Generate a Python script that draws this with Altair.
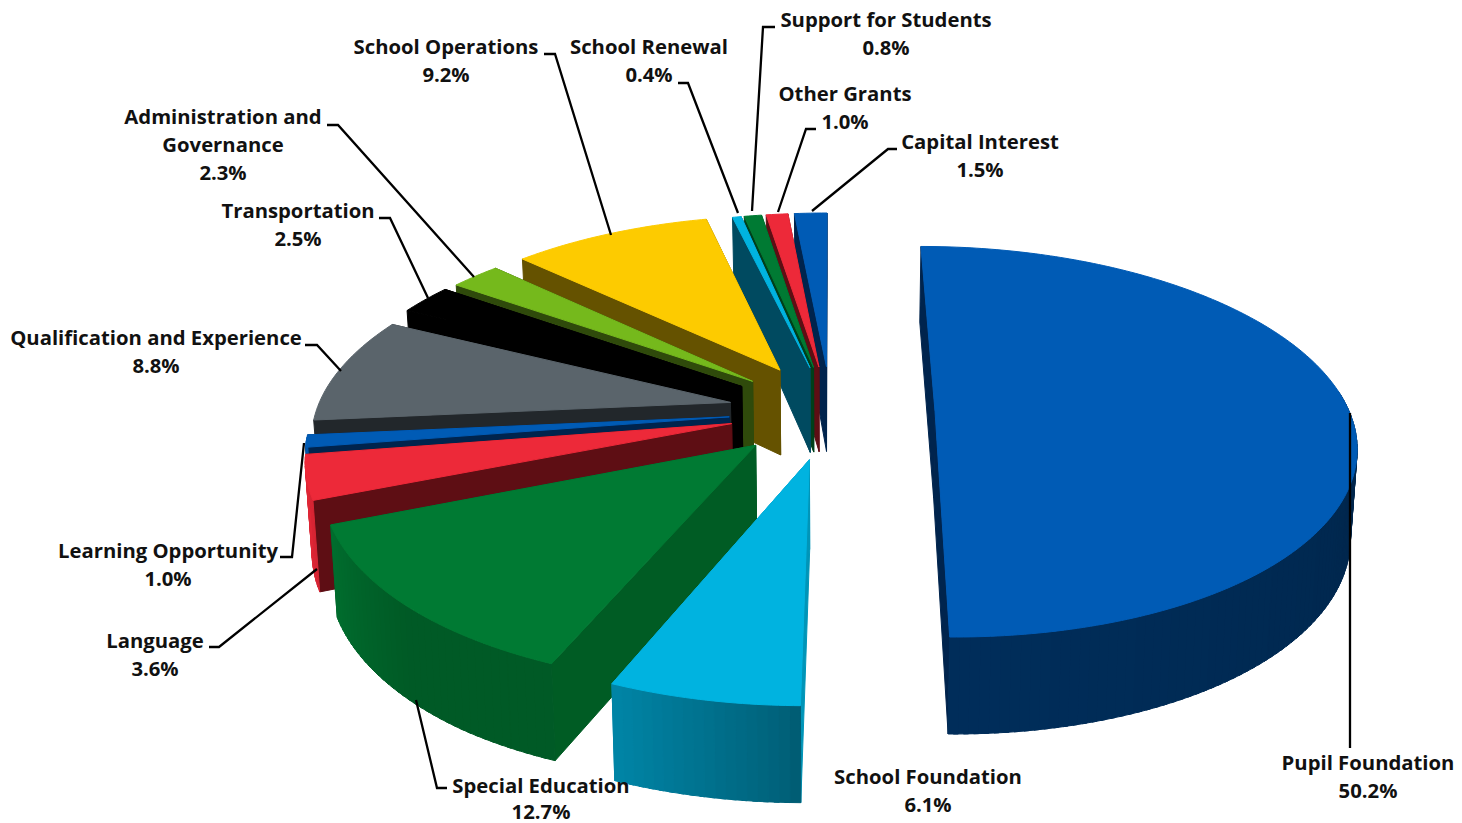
import math
import altair as alt
import pandas as pd

# Share of total funding, clockwise from twelve o'clock
names = ["Pupil Foundation", "School Foundation", "Special Education", "Language",
         "Learning Opportunity", "Qualification and Experience", "Transportation",
         "Administration and Governance", "School Operations", "School Renewal",
         "Support for Students", "Other Grants", "Capital Interest"]
shares = [50.2, 6.1, 12.7, 3.6, 1.0, 8.8, 2.5, 2.3, 9.2, 0.4, 0.8, 1.0, 1.5]
top_colors = ["#005bb5", "#00b3e0", "#007a33", "#ed2939", "#005bb5", "#5a646b", "#000000",
              "#75b91c", "#fdcb00", "#00b3e0", "#007a33", "#ed2939", "#005bb5"]
face_colors = ["#00244d", "#0095b8", "#005c24", "#5e0e14", "#00244d", "#22272b", "#000000",
               "#2f4a0b", "#655200", "#004a60", "#00401a", "#5e0e14", "#00244d"]
explosions = [104, 104, 103, 102, 102, 103, 106, 104, 106, 100, 100, 100, 100]

# Camera and pie geometry
W, H = 1462, 823
VX, CY = 831.0, 411.0
TILT, DIST = 0.46, 2650.0
R = 414.0
INSET = 0.987
WALL_FROM, WALL_TO = 84, 264
DEPTH_Y = [-510, -410, -87, 410, 520]
DEPTH_V = [62, 76, 85, 97, 97]
SHADE_ANGLE = [80, 100, 180, 183, 202, 225, 248, 262, 300]
SHADE_VALUE = [0.40, 0.42, 0.50, 0.55, 0.74, 0.74, 0.90, 0.95, 0.95]


def interp(v, xs, ys):
    if v <= xs[0]:
        return ys[0]
    for i in range(1, len(xs)):
        if v <= xs[i]:
            k = (v - xs[i - 1]) / (xs[i] - xs[i - 1])
            return ys[i - 1] + k * (ys[i] - ys[i - 1])
    return ys[-1]


def shaded(hex_color, s):
    rgb = [int(hex_color[i:i + 2], 16) for i in (1, 3, 5)]
    return "#" + "".join(f"{min(255, round(c * s)):02x}" for c in rgb)


def project(px, py, lowered=False):
    f = 1 / (1 - py / DIST)
    x = VX + px * f
    y = CY + TILT * py * f
    if lowered:
        x = VX + (x - VX) * INSET
        y += interp(py, DEPTH_Y, DEPTH_V)
    return x, y


def plane(theta, radius, ex, ey):
    t = math.radians(theta)
    return ex + radius * math.sin(t), ey - radius * math.cos(t)


rows = []
poly_id = 0


def add_polygon(points, color):
    global poly_id
    pts = points + [points[0]]
    for seq, (x, y) in enumerate(pts):
        rows.append({"poly": f"p{poly_id:05d}", "seq": seq, "x": x, "y": y, "c": color})
    poly_id += 1


total = sum(shares)
spans = []
start = 0.0
for s in shares:
    spans.append((start, start + s / total * 360))
    start += s / total * 360


def draw_slice(i):
    a0, a1 = spans[i]
    mid = math.radians((a0 + a1) / 2)
    ex, ey = explosions[i] * math.sin(mid), -explosions[i] * math.cos(mid)

    # cut faces, the one further back first
    faces = []
    for a in (a0, a1):
        rim = plane(a, R, ex, ey)
        faces.append((rim[1], [project(ex, ey), project(*rim),
                               project(*rim, lowered=True), project(ex, ey, lowered=True)]))
    for _, quad in sorted(faces, key=lambda q: q[0]):
        add_polygon(quad, face_colors[i])

    # outer wall in short overlapping bands, which carry the shading
    lo, hi = max(a0, WALL_FROM), min(a1, WALL_TO)
    if hi > lo:
        n = max(1, int((hi - lo) / 1.2))
        for k in range(n):
            b0 = lo + (hi - lo) * k / n
            b1 = lo + (hi - lo) * (k + 1) / n
            p0, p1 = plane(b0, R, ex, ey), plane(min(b1 + 0.6, hi), R, ex, ey)
            add_polygon([project(*p0), project(*p1),
                         project(*p1, lowered=True), project(*p0, lowered=True)],
                        shaded(top_colors[i], interp((b0 + b1) / 2, SHADE_ANGLE, SHADE_VALUE)))

    # top surface
    n = max(4, int((a1 - a0) / 0.8))
    outline = [project(ex, ey)]
    for k in range(n + 1):
        outline.append(project(*plane(a0 + (a1 - a0) * k / n, R, ex, ey)))
    add_polygon(outline, top_colors[i])


# Back slices first, the front ones over them
for i in [0, 12, 11, 10, 9, 8, 7, 6, 5, 4, 3, 2, 1]:
    draw_slice(i)

pie_df = pd.DataFrame(rows)

# Label text and where each line of it sits
label_lines = [
    ("Pupil Foundation", 1368, 764), ("50.2%", 1368, 792),
    ("School Foundation", 928, 778), ("6.1%", 928, 806),
    ("Special Education", 541, 787), ("12.7%", 541, 812.5),
    ("Language", 155, 642), ("3.6%", 155, 670),
    ("Learning Opportunity", 168, 552), ("1.0%", 168, 580),
    ("Qualification and Experience", 156, 339), ("8.8%", 156, 367),
    ("Transportation", 298, 212), ("2.5%", 298, 240),
    ("Administration and", 223, 118), ("Governance", 223, 146), ("2.3%", 223, 174),
    ("School Operations", 446, 48), ("9.2%", 446, 76),
    ("School Renewal", 649, 48), ("0.4%", 649, 76),
    ("Support for Students", 886, 21), ("0.8%", 886, 49),
    ("Other Grants", 845, 95), ("1.0%", 845, 123),
    ("Capital Interest", 980, 143), ("1.5%", 980, 171),
]
label_df = pd.DataFrame(label_lines, columns=["text", "x", "y"])

# Leader lines from each label to its slice
leaders = [
    [(897, 149), (888, 149), (812, 211)],
    [(816, 129), (806, 129), (778, 212)],
    [(775, 27), (763, 27), (752, 211)],
    [(678, 83), (688, 83), (738, 213)],
    [(544, 54), (555, 54), (611, 235)],
    [(327, 125), (338, 125), (474, 277)],
    [(379, 218), (390, 218), (428, 298)],
    [(305, 345), (317, 345), (341, 371)],
    [(280, 557), (292, 557), (304, 443)],
    [(209, 647), (219, 647), (317, 569)],
    [(447, 788), (437, 788), (416, 700)],
    [(1350, 413), (1350, 748)],
]
leader_df = pd.DataFrame(
    [{"line": n, "seq": k, "x": p[0], "y": p[1]}
     for n, line in enumerate(leaders) for k, p in enumerate(line)]
)

x_enc = alt.X("x:Q", axis=None, scale=alt.Scale(domain=[0, W], nice=False, zero=False))
y_enc = alt.Y("y:Q", axis=None, scale=alt.Scale(domain=[0, H], nice=False, zero=False, reverse=True))

pie = alt.Chart(pie_df).mark_line(strokeWidth=1, interpolate="linear").encode(
    x=x_enc, y=y_enc,
    order=alt.Order("seq:Q"),
    detail="poly:N",
    fill=alt.Fill("c:N", scale=None),
    stroke=alt.Stroke("c:N", scale=None),
)

leader_lines = alt.Chart(leader_df).mark_line(color="#000000", strokeWidth=2.3).encode(
    x=x_enc, y=y_enc, order=alt.Order("seq:Q"), detail="line:N"
)

labels = alt.Chart(label_df).mark_text(
    font="Open Sans", fontWeight="bold", fontSize=20.3, color="#111111", align="center", baseline="middle"
).encode(x=x_enc, y=y_enc, text="text:N")

chart = alt.layer(pie, leader_lines, labels).properties(
    width=W, height=H, padding=0, autosize=alt.AutoSizeParams(type="none"), background="#ffffff"
).configure_view(stroke=None)

chart.save("out.html", embed_options={"renderer": "svg", "actions": False})
